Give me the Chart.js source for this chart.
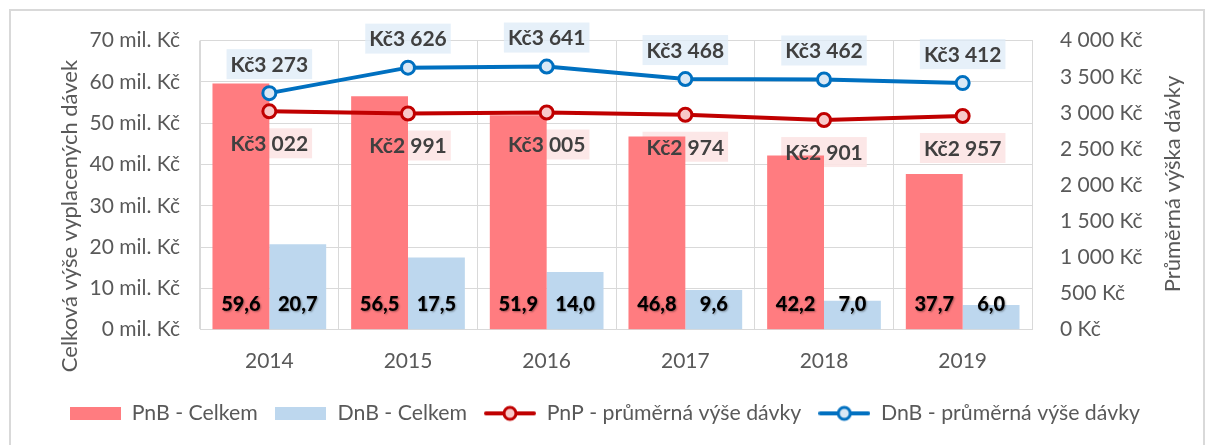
<!DOCTYPE html>
<html>
<head>
<meta charset="utf-8">
<script src="https://cdn.jsdelivr.net/npm/chart.js"></script>
<style>
  html, body { margin: 0; padding: 0; background: #fff; }
  #wrap { position: relative; width: 1209px; height: 445px; overflow: hidden; }
  #frame { position: absolute; left: 9px; top: 9px; width: 1196px; height: 460px; border: 2px solid #d9d9d9; box-sizing: border-box; }
  canvas { position: absolute; left: 0; top: 0; }
</style>
</head>
<body>
<div id="wrap">
  <div id="frame"></div>
  <canvas id="chart" width="1209" height="445"></canvas>
</div>
<script>
const years = ['2014', '2015', '2016', '2017', '2018', '2019'];
const pnbCelkem = [59.6, 56.5, 51.9, 46.8, 42.2, 37.7];
const dnbCelkem = [20.7, 17.5, 14.0, 9.6, 7.0, 6.0];
const pnpPrumer = [3022, 2991, 3005, 2974, 2901, 2957];
const dnbPrumer = [3273, 3626, 3641, 3468, 3462, 3412];
const seriesNames = ['PnB - Celkem', 'DnB - Celkem', 'PnP - průměrná výše dávky', 'DnB - průměrná výše dávky'];

const FONT = 'Lato, "Open Sans", sans-serif';
const GRID = '#d9d9d9';
const TEXT = '#595959';

const thousands = (v) => String(v).replace(/\B(?=(\d{3})+(?!\d))/g, ' ');
const czk = (v) => 'Kč' + thousands(v);
const decimal = (v) => v.toFixed(1).replace('.', ',');

// legend symbols as little canvases
function rectIcon(color) {
  const c = document.createElement('canvas');
  c.width = 51; c.height = 13;
  const g = c.getContext('2d');
  g.fillStyle = color;
  g.fillRect(0, 0, 51, 13);
  return c;
}
function lineIcon(color, fill) {
  const c = document.createElement('canvas');
  c.width = 52; c.height = 18;
  const g = c.getContext('2d');
  g.strokeStyle = color;
  g.lineWidth = 4;
  g.lineCap = 'round';
  g.beginPath(); g.moveTo(2, 9); g.lineTo(50, 9); g.stroke();
  g.beginPath(); g.arc(26, 9, 6, 0, Math.PI * 2);
  g.fillStyle = fill; g.fill();
  g.lineWidth = 3; g.stroke();
  return c;
}

const labelPlugin = {
  id: 'valueLabels',
  beforeDatasetsDraw(chart) {
    const ctx = chart.ctx;
    ctx.save();
    ctx.font = 'bold 21px ' + FONT;
    [[2, pnpPrumer, 32, 'rgba(252,228,228,0.9)'], [3, dnbPrumer, -29, 'rgba(222,235,247,0.75)']].forEach(([i, vals, dy, bg]) => {
      chart.getDatasetMeta(i).data.forEach((pt, j) => {
        const w = ctx.measureText(czk(vals[j])).width + 8;
        ctx.fillStyle = bg;
        ctx.fillRect(pt.x - w / 2, pt.y + dy - 15, w, 30);
      });
    });
    ctx.restore();
  },
  afterDatasetsDraw(chart) {
    const ctx = chart.ctx;
    ctx.save();
    ctx.textAlign = 'center';
    ctx.textBaseline = 'middle';
    ctx.font = 'bold 21px ' + FONT;
    ctx.fillStyle = '#404040';
    [[2, pnpPrumer, 32], [3, dnbPrumer, -29]].forEach(([i, vals, dy]) => {
      chart.getDatasetMeta(i).data.forEach((pt, j) => {
        ctx.fillText(czk(vals[j]), pt.x, pt.y + dy + 1);
      });
    });
    ctx.fillStyle = '#000';
    ctx.font = '900 20px ' + FONT;
    ctx.shadowColor = 'rgba(0,0,0,0.35)';
    ctx.shadowBlur = 2;
    ctx.shadowOffsetX = 1;
    ctx.shadowOffsetY = 1;
    [[0, pnbCelkem], [1, dnbCelkem]].forEach(([i, vals]) => {
      chart.getDatasetMeta(i).data.forEach((bar, j) => {
        ctx.fillText(decimal(vals[j]), bar.x, bar.base - 25);
      });
    });
    ctx.restore();
  },
  afterDraw(chart) {
    const ctx = chart.ctx;
    ctx.save();
    ctx.fillStyle = TEXT;
    ctx.textAlign = 'center';
    ctx.textBaseline = 'middle';
    ctx.font = '22px ' + FONT;
    ctx.translate(70, 216);
    ctx.rotate(-Math.PI / 2);
    ctx.fillText('Celková výše vyplacených dávek', 0, 0);
    ctx.restore();
    ctx.save();
    ctx.fillStyle = TEXT;
    ctx.textAlign = 'center';
    ctx.textBaseline = 'middle';
    ctx.font = '22px ' + FONT;
    ctx.translate(1173, 184);
    ctx.rotate(-Math.PI / 2);
    ctx.fillText('Průměrná výška dávky', 0, 0);
    ctx.restore();
  }
};

const icons = [
  rectIcon('#ff7c80'),
  rectIcon('#bdd7ee'),
  lineIcon('#c00000', '#f8c9c9'),
  lineIcon('#0070c0', '#dae8f5')
];

new Chart(document.getElementById('chart'), {
  type: 'bar',
  data: {
    labels: years,
    datasets: [
      { label: seriesNames[0], data: pnbCelkem, backgroundColor: '#ff7c80', yAxisID: 'y', order: 2,
        categoryPercentage: 0.82, barPercentage: 1 },
      { label: seriesNames[1], data: dnbCelkem, backgroundColor: '#bdd7ee', yAxisID: 'y', order: 2,
        categoryPercentage: 0.82, barPercentage: 1 },
      { type: 'line', label: seriesNames[2], data: pnpPrumer, yAxisID: 'y1', order: 1,
        borderColor: '#c00000', borderWidth: 4, pointRadius: 6.5, pointBorderWidth: 3,
        pointBackgroundColor: '#f8c9c9', pointBorderColor: '#c00000', tension: 0 },
      { type: 'line', label: seriesNames[3], data: dnbPrumer, yAxisID: 'y1', order: 1,
        borderColor: '#0070c0', borderWidth: 4, pointRadius: 6.5, pointBorderWidth: 3,
        pointBackgroundColor: '#dae8f5', pointBorderColor: '#0070c0', tension: 0 }
    ]
  },
  options: {
    responsive: false,
    animation: false,
    layout: { padding: { top: 39, left: 0, right: 0, bottom: 11 } },
    scales: {
      x: {
        grid: { color: GRID, drawTicks: false, offset: true },
        border: { color: GRID },
        ticks: { color: TEXT, font: { family: FONT, size: 21 }, padding: 19 },
        afterFit: (s) => { s.height = 56; }
      },
      y: {
        position: 'left',
        min: 0, max: 70,
        grid: { color: GRID, drawTicks: false },
        border: { color: GRID },
        ticks: { stepSize: 10, color: TEXT, font: { family: FONT, size: 21 }, padding: 20,
          callback: (v) => v + ' mil. Kč' },
        afterFit: (s) => { s.width = 200; }
      },
      y1: {
        position: 'right',
        min: 0, max: 4000,
        grid: { drawOnChartArea: false, drawTicks: false },
        border: { color: GRID },
        ticks: { stepSize: 500, color: TEXT, font: { family: FONT, size: 21 }, padding: 28,
          callback: (v) => thousands(v) + ' Kč' },
        afterFit: (s) => { s.width = 177; }
      }
    },
    plugins: {
      tooltip: { enabled: false },
      legend: {
        position: 'bottom',
        labels: {
          usePointStyle: true,
          pointStyleWidth: 52,
          padding: 17,
          color: TEXT,
          font: { family: FONT, size: 21.3 },
          generateLabels: () => seriesNames.map((name, i) => ({
            text: name, pointStyle: icons[i], fontColor: TEXT,
            lineWidth: 0, strokeStyle: 'transparent', fillStyle: 'transparent', datasetIndex: i, hidden: false
          }))
        }
      }
    }
  },
  plugins: [labelPlugin]
});
</script>
</body>
</html>
